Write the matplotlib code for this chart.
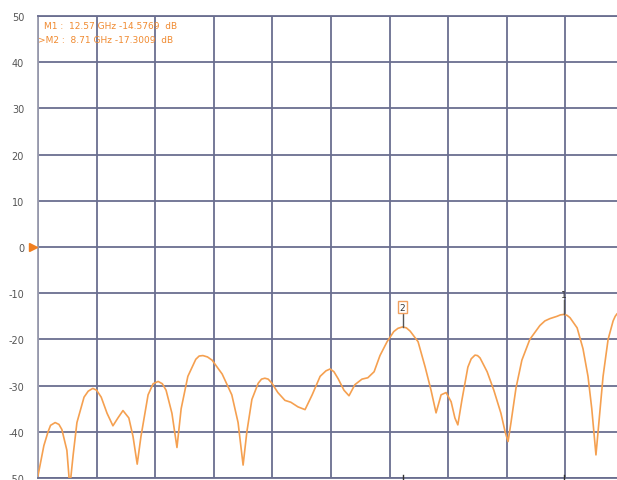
import matplotlib
matplotlib.use("Agg")
import matplotlib.pyplot as plt
from matplotlib.ticker import MultipleLocator

freq_ghz = [0.00, 0.14, 0.24, 0.30, 0.41, 0.50, 0.57, 0.69, 0.76, 0.84, 0.93, 1.10, 1.20, 1.31, 1.40, 1.51,
            1.65, 1.79, 1.91, 2.03, 2.17, 2.27, 2.37, 2.46, 2.63, 2.75, 2.87, 2.97, 3.06, 3.20, 3.32,
            3.42, 3.58, 3.77, 3.85, 3.94, 4.05, 4.16, 4.40, 4.63, 4.78, 4.90, 4.99, 5.11, 5.26, 5.34,
            5.42, 5.50, 5.59, 5.73, 5.90, 6.04, 6.21, 6.38, 6.55, 6.74, 6.88, 6.98, 7.07, 7.17, 7.31,
            7.43, 7.57, 7.74, 7.88, 8.03, 8.17, 8.34, 8.50, 8.60, 8.71, 8.80, 8.89, 9.08, 9.25, 9.39,
            9.51, 9.63, 9.75, 9.87, 9.96, 10.03, 10.13, 10.27, 10.35, 10.44, 10.50, 10.56, 10.73,
            10.89, 11.06, 11.16, 11.23, 11.30, 11.42, 11.56, 11.75, 11.99, 12.11, 12.23, 12.40, 12.48,
            12.57, 12.64, 12.71, 12.88, 13.02, 13.14, 13.23, 13.33, 13.40, 13.50, 13.62, 13.74, 13.79,
            13.83]
s_db = [-49.5, -43.0, -40.0, -38.6, -38.0, -38.4, -39.5, -44.0, -52.0, -45.0, -38.0, -32.5, -31.2, -30.6, -31.0, -32.5,
        -36.0, -38.7, -37.0, -35.4, -37.0, -41.0, -47.0, -41.0, -32.0, -29.6, -29.1, -29.6, -31.0, -36.0, -43.4,
        -35.0, -28.0, -24.3, -23.6, -23.5, -23.8, -24.5, -27.5, -32.0, -38.0, -47.2, -40.0, -33.0, -29.5, -28.6,
        -28.4, -28.6, -29.5, -31.5, -33.2, -33.6, -34.6, -35.2, -32.0, -28.0, -26.8, -26.4, -27.0, -28.5, -31.0,
        -32.2, -29.8, -28.6, -28.3, -27.0, -23.5, -20.5, -18.3, -17.6, -17.3, -17.5, -18.2, -20.5, -26.0, -31.0,
        -35.9, -32.0, -31.5, -33.5, -37.0, -38.5, -33.0, -26.0, -24.2, -23.4, -23.5, -24.0, -27.0,
        -31.0, -36.0, -40.0, -42.1, -38.0, -30.5, -24.5, -20.0, -17.0, -16.0, -15.5, -15.0, -14.7,
        -14.58, -14.8, -15.3, -17.5, -22.0, -28.0, -35.0, -45.0, -38.0, -28.0, -20.0, -16.0, -15.0,
        -14.5]

y_ticks = [50, 40, 30, 20, 10, 0, -10, -20, -30, -40, -50]
marker_labels = ["1", "2"]
marker_freq = [12.57, 8.71]
marker_db = [-14.5769, -17.3009]
readout = ["M1 :  12.57 GHz -14.5769  dB", ">M2 :  8.71 GHz -17.3009  dB"]

W, H = 617, 481
fig = plt.figure(figsize=(W / 100, H / 100), dpi=100)
left_px, right_px, top_px, bot_px = 38, 624, 17, 479
ax = fig.add_axes([left_px / W, (H - bot_px) / H, (right_px - left_px) / W, (bot_px - top_px) / H])

ax.set_xlim(0, 14.0)
ax.set_ylim(-50, 50)
ax.xaxis.set_major_locator(MultipleLocator(1.4))
ax.set_yticks(y_ticks)
ax.set_yticklabels([str(v) for v in y_ticks])
ax.grid(True, color="#6a6e90", linewidth=1.3)
ax.set_axisbelow(True)
ax.tick_params(axis="x", length=0, labelbottom=False)
ax.tick_params(axis="y", length=0, labelsize=7, labelcolor="#555555", pad=10)
for side in ["left", "bottom", "top", "right"]:
    ax.spines[side].set_color("#9a9cae")
    ax.spines[side].set_linewidth(1.3)
ax.spines["top"].set_color("#6a6e90")
ax.spines["bottom"].set_color("#6a6e90")

ax.plot(freq_ghz, s_db, color="#f5a050", linewidth=1.2, zorder=3)

# reference level marker
ax.plot([-0.13], [0], marker=">", color="#f07f20", markersize=6, clip_on=False, zorder=5)

# marker 1
f1, d1 = marker_freq[0], marker_db[0]
ax.plot([f1, f1], [d1, d1 + 3.2], color="#555555", linewidth=1.0, zorder=4)
ax.text(f1, d1 + 3.3, marker_labels[0], ha="center", va="bottom", fontsize=6.5, color="#333333", zorder=5)
# marker 2
f2, d2 = marker_freq[1], marker_db[1]
ax.plot([f2, f2], [d2, d2 + 3.2], color="#555555", linewidth=1.0, zorder=4)
ax.text(f2, d2 + 3.3, marker_labels[1], ha="center", va="bottom", fontsize=6.5, color="#333333", zorder=5,
        bbox=dict(boxstyle="square,pad=0.2", facecolor="white", edgecolor="#f0a060", linewidth=1.0))

# marker ticks below axis
for f in marker_freq:
    ax.plot([f, f], [-49.4, -51.0], color="#333333", linewidth=1.0, clip_on=False, zorder=5)

# readout text
ax.text(0.15, 48.9, readout[0], ha="left", va="top", fontsize=6.5, color="#f08a30")
ax.text(0.0, 45.8, readout[1], ha="left", va="top", fontsize=6.5, color="#f08a30")

fig.savefig("out.png", dpi=100)
